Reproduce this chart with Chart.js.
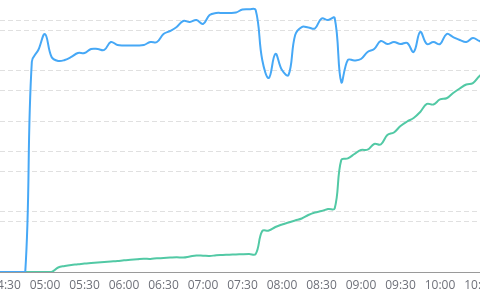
<!DOCTYPE html>
<html>
<head>
<meta charset="utf-8">
<script src="https://cdn.jsdelivr.net/npm/chart.js@4"></script>
<style>
  html, body { margin: 0; padding: 0; background: #fff; overflow: hidden; width: 480px; height: 305px; position: relative; }
  #chart { position: absolute; left: -40px; top: -50px; }
</style>
</head>
<body>
<canvas id="chart" width="560" height="360"></canvas>
<script>
const times = [
  '04:25', '04:30', '04:35', '04:40', '04:45', '04:50', '04:55', '05:00', '05:05', '05:10',
  '05:15', '05:20', '05:25', '05:30', '05:35', '05:40', '05:45', '05:50', '05:55', '06:00',
  '06:05', '06:10', '06:15', '06:20', '06:25', '06:30', '06:35', '06:40', '06:45', '06:50',
  '06:55', '07:00', '07:05', '07:10', '07:15', '07:20', '07:25', '07:30', '07:35', '07:40',
  '07:45', '07:50', '07:55', '08:00', '08:05', '08:10', '08:15', '08:20', '08:25', '08:30',
  '08:35', '08:40', '08:45', '08:50', '08:55', '09:00', '09:05', '09:10', '09:15', '09:20',
  '09:25', '09:30', '09:35', '09:40', '09:45', '09:50', '09:55', '10:00', '10:05', '10:10',
  '10:15', '10:20', '10:25', '10:30', '10:35'
];

// blue line, left axis
const blueValues = [
  0, 0, 0, 0, 0, 174, 184, 197, 178, 174.7,
  175.5, 178, 181.3, 181.3, 184.6, 184.6, 183.8, 190.4, 187.9, 187.5,
  187.5, 187.5, 187.9, 190.4, 190.4, 197, 199.5, 202.8, 207.8, 207,
  208.6, 205.3, 212.7, 214.4, 214.4, 214.4, 214.8, 217.3, 217.5, 216.9,
  175.5, 160.6, 180.5, 167.2, 163.1, 196.2, 202.8, 202.4, 201.6, 209.8,
  208.6, 210.3, 157.3, 175.5, 175.1, 176.3, 182.1, 184.6, 191.2, 188.7,
  190.4, 188.7, 189.6, 182.1, 198.7, 188.7, 190.4, 188.7, 197, 194.5,
  192.1, 190.4, 193.7, 191.2, 190
];

// green line, right axis
const greenValues = [
  0, 0, 0, 0, 0, 0, 0, 0, 0, 4.5,
  6, 7, 7.6, 8.4, 8.9, 9.4, 9.9, 10.4, 10.9, 11.6,
  12.1, 12.6, 13.1, 13, 13.6, 13.9, 14.3, 14.6, 14.4, 15.4,
  16.4, 16.2, 15.9, 16.6, 16.9, 17.2, 17.4, 17.7, 17.9, 17.9,
  40.7, 41.2, 44.7, 47.2, 49.2, 51.2, 53.1, 56.6, 59.1, 60.6,
  62.6, 63.1, 111.3, 112.8, 117.2, 121.2, 121.5, 127.2, 126.7, 136.1,
  138.6, 145, 149.5, 153, 159, 166.9, 166.4, 171.4, 172.6, 177.8,
  182.3, 186.3, 187.7, 194.7, 198.7
];

const tickLabels = [
  '04:30', '05:00', '05:30', '06:00', '06:30', '07:00', '07:30',
  '08:00', '08:30', '09:00', '09:30', '10:00', '10:30'
];

const toMinutes = t => {
  const [h, m] = t.split(':').map(Number);
  return h * 60 + m;
};
const toLabel = v => {
  const h = Math.floor(v / 60), m = Math.round(v % 60);
  return String(h).padStart(2, '0') + ':' + String(m).padStart(2, '0');
};

const dashedGrid = {
  color: '#e0e0e0',
  lineWidth: 1,
  drawTicks: false
};

new Chart(document.getElementById('chart'), {
  type: 'line',
  data: {
    datasets: [
      {
        data: times.map((t, i) => ({ x: toMinutes(t), y: blueValues[i] })),
        borderColor: '#46a8f6',
        borderWidth: 2,
        pointRadius: 0,
        tension: 0.4,
        yAxisID: 'y'
      },
      {
        data: times.map((t, i) => ({ x: toMinutes(t), y: greenValues[i] })),
        borderColor: '#52c9a5',
        borderWidth: 2,
        pointRadius: 0,
        tension: 0.4,
        yAxisID: 'y1'
      }
    ]
  },
  options: {
    responsive: false,
    animation: false,
    layout: { padding: { left: 40, right: 40, top: 20, bottom: 0 } },
    plugins: { legend: { display: false }, tooltip: { enabled: false } },
    scales: {
      x: {
        type: 'linear',
        min: 265.82,
        max: 630.38,
        grid: { display: false, drawTicks: false },
        border: { display: true, color: '#9a9a9a', width: 1 },
        afterBuildTicks: s => { s.ticks = tickLabels.map(l => ({ value: toMinutes(l) })); },
        afterFit: s => { s.height = 38; },
        ticks: {
          autoSkip: false,
          maxRotation: 0,
          padding: 6,
          color: '#6e7079',
          font: { family: 'Open Sans', size: 12 },
          callback: v => toLabel(v)
        }
      },
      y: {
        position: 'left',
        min: 0,
        max: 250,
        grid: dashedGrid,
        border: { display: false, dash: [5, 3] },
        ticks: { display: false, stepSize: 50 },
        afterFit: s => { s.width = 0; }
      },
      y1: {
        position: 'right',
        min: 0,
        max: 300,
        grid: dashedGrid,
        border: { display: false, dash: [5, 3] },
        ticks: { display: false, stepSize: 50 },
        afterFit: s => { s.width = 0; }
      }
    }
  }
});
</script>
</body>
</html>
